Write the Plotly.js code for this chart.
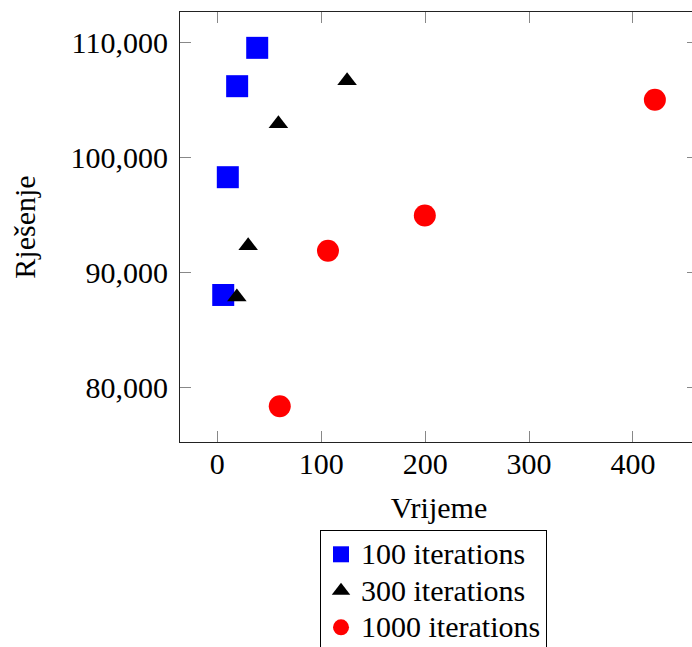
<!DOCTYPE html>
<html>
<head>
<meta charset="utf-8">
<script src="https://cdn.plot.ly/plotly-3.0.1.min.js"></script>
<style>
html,body{margin:0;padding:0;overflow:hidden;background:#fff;}
#chart{width:700px;height:647px;}
</style>
</head>
<body>
<div id="chart"></div>
<script>
// Data
const seriesNames = ["100 iterations", "300 iterations", "1000 iterations"];
const it100_time = [38.4, 19.1, 10.1, 5.7];
const it100_sol  = [109557, 106224, 98316, 88082];
const it300_time = [124.9, 58.8, 29.7, 18.8];
const it300_sol  = [106701, 102951, 92361, 87908];
const it1000_time = [421.1, 199.7, 106.5, 60.1];
const it1000_sol  = [105043, 94983, 91918, 78420];
const xTicks = [0, 100, 200, 300, 400];
const yTicks = [80000, 90000, 100000, 110000];

const FONT = "Liberation Serif";

function legendLabel(s) { return '<span style="font-size:30px">' + s + '</span>'; }

const traces = [
  {x: it100_time, y: it100_sol, name: legendLabel(seriesNames[0]), mode: "markers", type: "scatter",
   marker: {symbol: "square", size: 22, color: "#0000ff", line: {width: 0}}},
  {x: it300_time, y: it300_sol, name: legendLabel(seriesNames[1]), mode: "markers", type: "scatter",
   marker: {symbol: "triangle-up", size: 17, color: "#000000", line: {width: 0}}},
  {x: it1000_time, y: it1000_sol, name: legendLabel(seriesNames[2]), mode: "markers", type: "scatter",
   marker: {symbol: "circle", size: 22, color: "#ff0000", line: {width: 0}}}
];

const axisCommon = {
  showgrid: false, zeroline: false, showline: true, linecolor: "#222", linewidth: 1,
  mirror: "ticks", ticks: "inside", ticklen: 11, tickcolor: "#888", tickwidth: 1,
  automargin: false,
  tickfont: {family: FONT, size: 30, color: "#000"}
};

const layout = {
  width: 700, height: 647,
  margin: {l: 180, r: 2, t: 12, b: 205, autoexpand: false},
  paper_bgcolor: "#fff", plot_bgcolor: "#fff",
  font: {family: FONT, size: 30, color: "#000"},
  showlegend: true,
  legend: {
    x: 0.2703, y: -0.2047, xanchor: "left", yanchor: "top",
    bordercolor: "#000", borderwidth: 1, bgcolor: "#fff",
    font: {family: FONT, size: 25.8, color: "#000"}
  },
  xaxis: Object.assign({}, axisCommon, {
    range: [-35.9, 462.6], tickvals: xTicks, ticklabelstandoff: -5,
    title: {text: "Vrijeme", standoff: 17, font: {family: FONT, size: 30, color: "#000"}}
  }),
  yaxis: Object.assign({}, axisCommon, {
    range: [75306, 112671], tickvals: yTicks, tickformat: ",d", ticklabelstandoff: 5,
    title: {text: "Rješenje", standoff: 26, font: {family: FONT, size: 30, color: "#000"}}
  })
};

Plotly.newPlot("chart", traces, layout, {displayModeBar: false, staticPlot: true});
</script>
</body>
</html>
